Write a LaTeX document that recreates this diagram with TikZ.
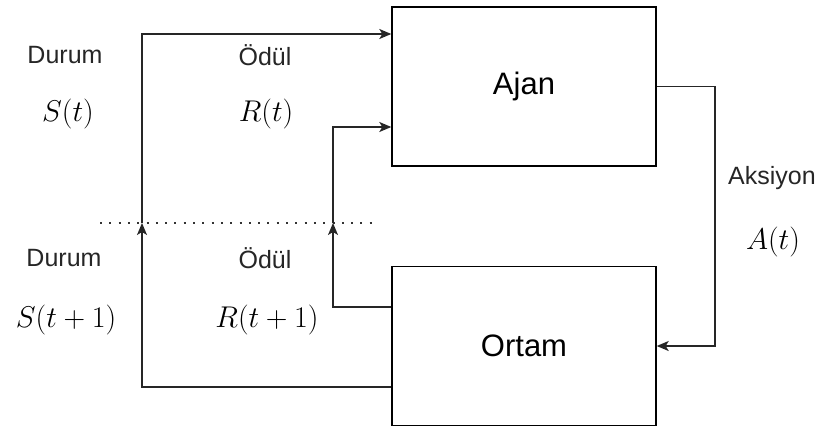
\RequirePackage{fix-cm}
\documentclass[tikz,border=0pt]{standalone}
\usepackage{fontspec}
\newfontfamily\labelfont{Liberation Sans}
\usepackage{amsmath}
\usetikzlibrary{arrows.meta}

\tikzset{
  box/.style={draw, line width=1.4pt, minimum width=264pt, minimum height=159pt,
    inner sep=0pt, font=\labelfont\fontsize{31}{36}\selectfont},
  flow/.style={draw=black!85, line width=1.4pt,
    -{Stealth[length=12pt,width=10pt,inset=3pt]}},
  cut/.style={draw=black!80, line width=2pt, dash pattern=on 2pt off 7.3pt},
  lbl/.style={text=black!85, font=\labelfont\fontsize{25}{30}\selectfont},
  sym/.style={font=\fontsize{30}{36}\selectfont}
}

\begin{document}
\begin{tikzpicture}[x=1pt, y=-1pt]
    \useasboundingbox (0,0) rectangle (824,428);

    % agent and environment
    \node[box] (ajan) at (524,86.5) {Ajan};
    \node[box] (ortam) at (524,346) {Ortam};

    % time step cut
    \coordinate (cutL) at (100,223);
    \coordinate (cutR) at (372,223);
    \coordinate (sCut) at (142,223);
    \coordinate (rCut) at (333,223);
    \coordinate (aTurn) at (715,86.5);
    \draw[cut] (cutL) -- (cutR);

    % state loop
    \draw[flow] ([yshift=-41pt]ortam.west) -| (sCut);
    \draw[flow] (sCut) |- ([yshift=52.5pt]ajan.west);

    % reward loop
    \draw[flow] ([yshift=39pt]ortam.west) -| (rCut);
    \draw[flow] (rCut) |- ([yshift=-40.5pt]ajan.west);

    % action
    \draw[flow] (ajan.east) -- (aTurn) |- (ortam.east);

    % labels
    \node[lbl] (durum) at (65,55) {Durum};
    \node[sym] (st) at (68,114) {$S(t)$};
    \node[lbl] (durumNext) at (64,258) {Durum};
    \node[sym] (stNext) at (66,320) {$S(t+1)$};
    \node[lbl] (odul) at (265,55) {Ödül};
    \node[sym] (rt) at (266,114) {$R(t)$};
    \node[lbl] (odulNext) at (265,258) {Ödül};
    \node[sym] (rtNext) at (267,320) {$R(t+1)$};
    \node[lbl] (aksiyon) at (772,178) {Aksiyon};
    \node[sym] (at) at (773,242) {$A(t)$};
\end{tikzpicture}
\end{document}
